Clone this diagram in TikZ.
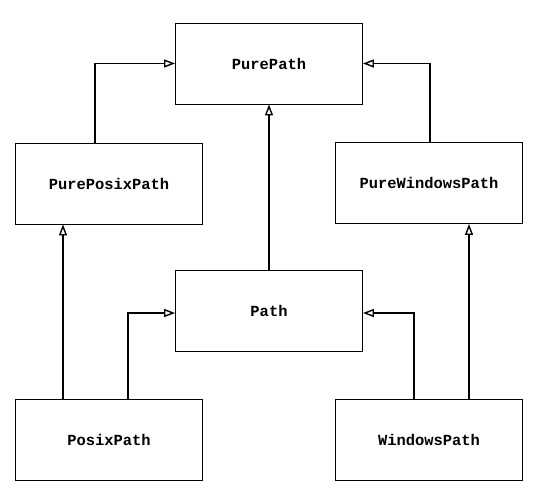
\documentclass[tikz,border=0pt]{standalone}
\usepackage{fontspec}
\setmonofont{Liberation Mono}
\usetikzlibrary{arrows.meta}
\tikzset{
  classbox/.style={draw, line width=0.9bp, minimum width=187bp, minimum height=81bp,
    font=\ttfamily\bfseries\fontsize{15.5}{18}\selectfont},
  inherit/.style={line width=1.8bp, -{Triangle[open, length=11bp, width=8bp, line width=1.4bp]}}
}
\begin{document}
\begin{tikzpicture}[x=1bp, y=-1bp]
    \useasboundingbox (0,0) rectangle (538,495);

    % Classes
    \node[classbox] (purepath) at (269,63.5) {PurePath};
    \node[classbox] (pureposix) at (109,183.5) {PurePosixPath};
    \node[classbox] (purewin) at (429,183) {PureWindowsPath};
    \node[classbox] (path) at (269,310.5) {Path};
    \node[classbox] (posix) at (109,439.5) {PosixPath};
    \node[classbox] (win) at (429,439.5) {WindowsPath};

    % Pure flavours
    \draw[inherit] ([xshift=-14bp]pureposix.north) |- (purepath.west);
    \draw[inherit] ([xshift=1bp]purewin.north) |- (purepath.east);
    \draw[inherit] (path.north) -- (purepath.south);

    % Concrete paths
    \draw[inherit] ([xshift=-46bp]posix.north) -- ([xshift=-46bp]pureposix.south);
    \draw[inherit] ([xshift=19bp]posix.north) |- ([yshift=-2.5bp]path.west);
    \draw[inherit] ([xshift=-15bp]win.north) |- ([yshift=-2.5bp]path.east);
    \draw[inherit] ([xshift=40bp]win.north) -- ([xshift=40bp]purewin.south);
\end{tikzpicture}
\end{document}
